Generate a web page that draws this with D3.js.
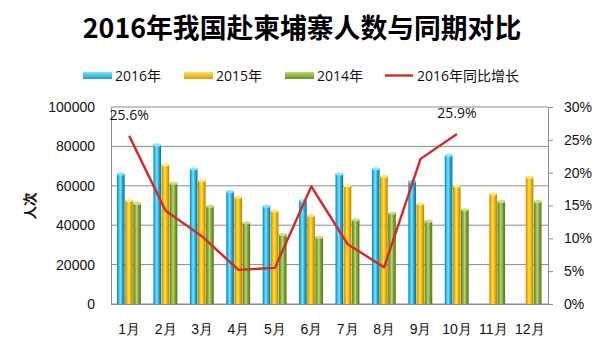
<!DOCTYPE html>
<html>
<head>
<meta charset="utf-8">
<script src="https://cdn.jsdelivr.net/npm/d3@7"></script>
<style>
  html, body { margin: 0; padding: 0; background: #fff; }
  svg { display: block; font-family: "Open Sans", "Noto Sans CJK SC", sans-serif; }
</style>
</head>
<body>
<svg id="chart" width="600" height="345"></svg>
<script>
const title = "2016年我国赴柬埔寨人数与同期对比";
const months = ["1月","2月","3月","4月","5月","6月","7月","8月","9月","10月","11月","12月"];
const seriesNames = ["2016年","2015年","2014年"];
const values2016 = [66300, 81000, 68900, 57300, 49900, 52800, 66200, 68900, 62600, 75700, null, null];
const values2015 = [52800, 70900, 62900, 54500, 47400, 45200, 60300, 65100, 51100, 60100, 56200, 64600];
const values2014 = [51300, 61600, 49900, 41500, 35500, 34200, 43000, 46400, 42300, 48100, 52300, 52300];
const growthName = "2016年同比增长";
const growth2016 = [25.6, 14.2, 10.3, 5.2, 5.5, 17.9, 9.1, 5.6, 22.1, 25.9, null, null];
const leftTicks = [0, 20000, 40000, 60000, 80000, 100000];
const rightTicks = [0, 5, 10, 15, 20, 25, 30];
const yAxisLabel = "人次";

const svg = d3.select("#chart");
const m = { left: 111, right: 548, top: 107, bottom: 304 };

const x = d3.scaleBand().domain(months).range([m.left, m.right]).paddingInner(0.33).paddingOuter(0.165);
const xc = d3.scaleBand().domain(months).range([m.left, m.right]);
const xs = d3.scaleBand().domain(seriesNames).range([0, x.bandwidth()]);
const y = d3.scaleLinear().domain([0, 100000]).range([m.bottom, m.top]);
const y2 = d3.scaleLinear().domain([0, 30]).range([m.bottom, m.top]);

const defs = svg.append("defs");
const palettes = {
  "2016年": ["#0a7fb0", "#37c3ec", "#7fe0fa", "#24a9d8", "#0a6f9c"],
  "2015年": ["#c98f00", "#f3b800", "#ffe060", "#f0b400", "#b88000"],
  "2014年": ["#5e7e22", "#86ac3c", "#b8d870", "#7ea036", "#56741e"]
};
const caps = { "2016年": "#8ae6fb", "2015年": "#ffe88a", "2014年": "#c6e08a" };
const keyOf = n => "g" + n.replace(/\D/g, "");
Object.entries(palettes).forEach(([k, cols]) => {
  const g = defs.append("linearGradient").attr("id", keyOf(k)).attr("x1", "0").attr("x2", "1").attr("y1", "0").attr("y2", "0");
  [0, 0.25, 0.45, 0.7, 1].forEach((o, i) => g.append("stop").attr("offset", o).attr("stop-color", cols[i]));
});
const lgGrad = { "2016年": ["#7fe0fa", "#1aa0d0"], "2015年": ["#ffe060", "#d9a000"], "2014年": ["#b8d870", "#6e9228"] };
Object.entries(lgGrad).forEach(([k, c]) => {
  const g = defs.append("linearGradient").attr("id", "l" + keyOf(k)).attr("x1", 0).attr("x2", 0).attr("y1", 0).attr("y2", 1);
  g.append("stop").attr("offset", 0).attr("stop-color", c[0]);
  g.append("stop").attr("offset", 1).attr("stop-color", c[1]);
});

// gridlines
svg.append("g").selectAll("line").data(leftTicks).join("line")
  .attr("x1", m.left).attr("x2", m.right)
  .attr("y1", d => y(d)).attr("y2", d => y(d))
  .attr("stroke", "#8c8c8c").attr("stroke-width", 1);

// axes
const leftAxis = d3.axisLeft(y).tickValues(leftTicks).tickSize(0).tickPadding(16).tickFormat(d3.format("d"));
const gl = svg.append("g").attr("transform", `translate(${m.left},0)`).call(leftAxis);
gl.select(".domain").attr("stroke", "#8c8c8c");
gl.selectAll("text").attr("font-size", 14).attr("fill", "#111");

const rightAxis = d3.axisRight(y2).tickValues(rightTicks).tickSize(5).tickPadding(11).tickFormat(d => d + "%");
const gr = svg.append("g").attr("transform", `translate(${m.right},0)`).call(rightAxis);
gr.select(".domain").attr("stroke", "#8c8c8c");
gr.selectAll(".tick line").attr("stroke", "#8c8c8c");
gr.selectAll("text").attr("font-size", 14).attr("fill", "#111");

const bottomAxis = d3.axisBottom(xc).tickSize(0).tickPadding(20);
const gb = svg.append("g").attr("transform", `translate(0,${m.bottom})`).call(bottomAxis);
gb.select(".domain").attr("stroke", "#8c8c8c");
gb.selectAll("text").attr("font-size", 14).attr("fill", "#111");

// bars
const seriesValues = [values2016, values2015, values2014];
seriesNames.forEach((name, si) => {
  const data = months.map((mo, i) => ({ mo, v: seriesValues[si][i] })).filter(d => d.v != null);
  const g = svg.append("g");
  g.selectAll("rect").data(data).join("rect")
    .attr("x", d => x(d.mo) + xs(name))
    .attr("y", d => y(d.v))
    .attr("width", xs.bandwidth() - 0.5)
    .attr("height", d => y(0) - y(d.v))
    .attr("fill", `url(#${keyOf(name)})`);
  g.selectAll("ellipse").data(data).join("ellipse")
    .attr("cx", d => x(d.mo) + xs(name) + (xs.bandwidth() - 0.5) / 2)
    .attr("cy", d => y(d.v) + 0.5)
    .attr("rx", (xs.bandwidth() - 0.5) / 2)
    .attr("ry", 1.6)
    .attr("fill", caps[name]);
});

// growth line
const lineData = months.map((mo, i) => ({ mo, v: growth2016[i] })).filter(d => d.v != null);
svg.append("path").datum(lineData)
  .attr("d", d3.line().x(d => xc(d.mo) + xc.bandwidth() / 2).y(d => y2(d.v)))
  .attr("fill", "none").attr("stroke", "#d42a22").attr("stroke-width", 2.4).attr("stroke-linejoin", "round");

// data labels (first and last)
[lineData[0], lineData[lineData.length - 1]].forEach(d => {
  svg.append("text")
    .attr("x", xc(d.mo) + xc.bandwidth() / 2)
    .attr("y", y2(d.v) - 16)
    .attr("text-anchor", "middle")
    .attr("font-size", 14).attr("fill", "#111")
    .text(d.v.toFixed(1) + "%");
});

// y axis label
svg.append("text")
  .attr("transform", "translate(35,206) rotate(-90)")
  .attr("text-anchor", "middle")
  .attr("font-size", 13.5).attr("font-weight", "bold").attr("fill", "#111")
  .text(yAxisLabel);

// title
svg.append("text")
  .attr("x", 302).attr("y", 38)
  .attr("text-anchor", "middle")
  .attr("font-family", "'Noto Sans CJK SC', sans-serif")
  .attr("font-size", 26.8).attr("font-weight", "bold").attr("fill", "#000")
  .text(title);

// legend
const legendItems = [
  { name: "2016年", x: 83, type: "bar" },
  { name: "2015年", x: 184, type: "bar" },
  { name: "2014年", x: 285, type: "bar" },
  { name: growthName, x: 385, type: "line" }
];
const lg = svg.append("g");
legendItems.forEach(it => {
  if (it.type === "bar") {
    lg.append("rect").attr("x", it.x).attr("y", 72).attr("width", 29).attr("height", 7)
      .attr("fill", `url(#l${keyOf(it.name)})`);
  } else {
    lg.append("line").attr("x1", it.x).attr("x2", it.x + 28).attr("y1", 75.5).attr("y2", 75.5)
      .attr("stroke", "#d42a22").attr("stroke-width", 2.4);
  }
  lg.append("text").attr("x", it.x + 32).attr("y", 80.5)
    .attr("font-size", 14).attr("fill", "#111").text(it.name);
});
</script>
</body>
</html>
